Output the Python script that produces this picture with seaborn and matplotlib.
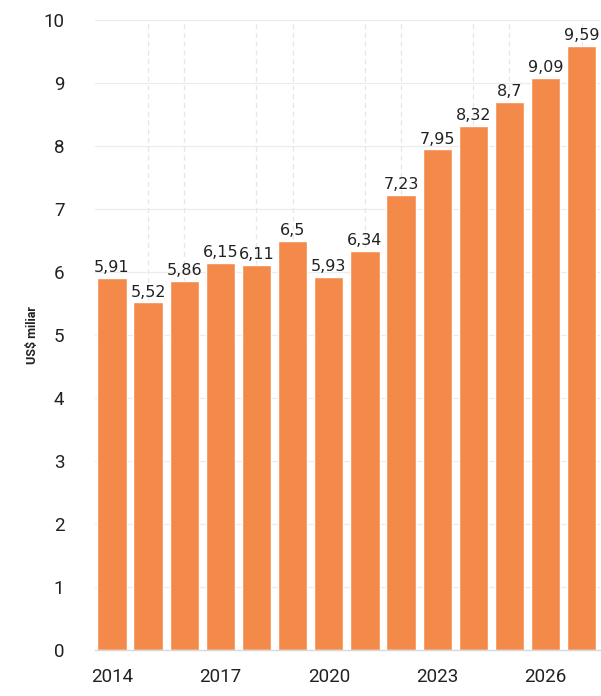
import matplotlib
matplotlib.use("Agg")
import matplotlib.pyplot as plt
import pandas as pd
import seaborn as sns

years = [2014, 2015, 2016, 2017, 2018, 2019, 2020, 2021, 2022, 2023, 2024, 2025, 2026, 2027]
values = [5.91, 5.52, 5.86, 6.15, 6.11, 6.5, 5.93, 6.34, 7.23, 7.95, 8.32, 8.7, 9.09, 9.59]
shown_years = [2014, 2017, 2020, 2023, 2026]
ylabel = "US$ miliar"

df = pd.DataFrame({"year": [str(y) for y in years], "value": values})

sns.set_theme(style="white")
plt.rcParams["font.family"] = ["Roboto", "DejaVu Sans"]

fig = plt.figure(figsize=(6.01, 6.96), dpi=100)
ax = fig.add_axes([0.158, 0.066, 0.84, 0.905])

# grid first so bars cover it
for i, y in enumerate(years):
    if y not in shown_years:
        ax.axvline(i, color="#e6e6e6", lw=0.9, ls=(0, (4, 3)), zorder=0)
for v in range(1, 11):
    ax.axhline(v, color="#ececec", lw=0.9, zorder=0)

sns.barplot(data=df, x="year", y="value", color="#F48A4A", saturation=1,
            width=0.81, ax=ax, zorder=2)

labels = [str(v).replace(".", ",") for v in values]
ax.bar_label(ax.containers[0], labels=labels, padding=2, fontsize=11.5,
             color="#222222", fontfamily="DejaVu Sans")

ax.set_xlim(-0.47, len(years) - 0.5)
ax.set_ylim(0, 10)
ax.set_yticks(range(0, 11))
ax.set_yticklabels([str(v) for v in range(0, 11)])
ticks = [years.index(y) for y in shown_years]
ax.set_xticks(ticks)
ax.set_xticklabels([str(y) for y in shown_years])
ax.tick_params(axis="x", length=5, color="#d0d0d0", labelsize=13.5,
               labelcolor="#222222", pad=8)
ax.tick_params(axis="y", length=0, labelsize=13.5, labelcolor="#222222", pad=22)

ax.set_xlabel("")
ax.set_ylabel(ylabel, fontsize=9, fontweight="bold", color="#222222", labelpad=3)

for s in ["top", "right", "left"]:
    ax.spines[s].set_visible(False)
ax.spines["bottom"].set_color("#d8d8d8")
ax.spines["bottom"].set_linewidth(1)

fig.savefig("out.png", dpi=100)
